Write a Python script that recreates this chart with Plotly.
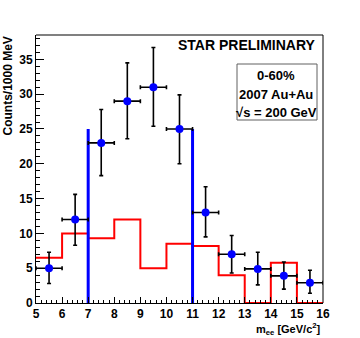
import plotly.graph_objects as go

# measured points (m_ee bin centres, counts, errors)
mass = [5.5, 6.5, 7.5, 8.5, 9.5, 10.5, 11.5, 12.5, 13.5, 14.5, 15.5]
counts = [5, 12, 23, 29, 31, 25, 13, 7, 4.9, 3.9, 2.9]
err_up = [2.3, 3.6, 4.8, 5.5, 5.7, 4.9, 3.7, 2.7, 2.4, 2.0, 1.8]
err_dn = [2.2, 3.7, 4.7, 5.4, 5.6, 5.0, 3.5, 2.7, 2.3, 1.9, 1.5]
x_half = [0.5] * 11

# background histogram
bin_edges = [5, 6, 7, 8, 9, 10, 11, 12, 13, 14, 15, 16]
bkg = [6.5, 10, 9.3, 12, 5, 8.5, 8.2, 4, 0, 5.8, 0]

# mass window
window = [7, 11]
window_height = 25

fig = go.Figure()

fig.add_trace(go.Scatter(
    x=bin_edges, y=bkg + [bkg[-1]],
    mode="lines", line=dict(color="#ff0000", width=2, shape="hv"),
    showlegend=False, hoverinfo="skip"))

wx, wy = [], []
for w in window:
    wx += [w, w, None]
    wy += [0, window_height, None]
fig.add_trace(go.Scatter(
    x=wx, y=wy, mode="lines",
    line=dict(color="#0000ff", width=3),
    showlegend=False, hoverinfo="skip"))

fig.add_trace(go.Scatter(
    x=mass, y=counts, mode="markers",
    marker=dict(color="#0000ff", size=8),
    error_y=dict(type="data", symmetric=False, array=err_up, arrayminus=err_dn,
                 color="black", thickness=1.6, width=2),
    error_x=dict(type="data", array=x_half, color="black", thickness=1.6, width=2),
    showlegend=False))

FONT = "Liberation Sans, Arial"
axis_font = dict(family=FONT, size=12, color="black", weight="bold")

fig.update_xaxes(
    range=[5, 16], dtick=1, tick0=5, ticks="inside", ticklen=6, tickcolor="black",
    showline=True, linecolor="black", linewidth=1, showgrid=False, zeroline=False,
    tickfont=axis_font,
    minor=dict(dtick=0.2, ticks="inside", ticklen=3, tickcolor="black"))
fig.update_yaxes(
    range=[0, 38.5], dtick=5, tick0=0, ticks="inside", ticklen=8, tickcolor="black",
    showline=True, linecolor="black", linewidth=1, showgrid=False, zeroline=False,
    tickfont=axis_font,
    minor=dict(dtick=1, ticks="inside", ticklen=4, tickcolor="black"))

# frame top / right
fig.add_shape(type="line", xref="paper", yref="paper", x0=0, x1=1, y0=1, y1=1,
              line=dict(color="#808080", width=2))
fig.add_shape(type="line", xref="paper", yref="paper", x0=1, x1=1, y0=0, y1=1,
              line=dict(color="black", width=1))

# info box
fig.add_shape(type="rect", xref="paper", yref="paper",
              x0=(237 - 36) / 287, x1=(317 - 36) / 287,
              y0=(303 - 120) / 268, y1=(303 - 64) / 268,
              line=dict(color="#606060", width=1), fillcolor="white")

fig.add_annotation(text="<b>STAR PRELIMINARY</b>", xref="paper", yref="paper",
                   x=(318 - 36) / 287, y=(303 - 45) / 268, xanchor="right", yanchor="middle",
                   showarrow=False, font=dict(family=FONT, size=14, color="black"))
box_lines = ["0-60%", "2007 Au+Au", "√s = 200 GeV"]
for i, t in enumerate(box_lines):
    fig.add_annotation(text="<b>%s</b>" % t, xref="paper", yref="paper",
                       x=(276 - 36) / 287, y=(303 - (75 + 19 * i)) / 268,
                       xanchor="center", yanchor="middle", showarrow=False,
                       font=dict(family=FONT, size=13, color="black"))

fig.add_annotation(text="<b>m<sub>ee</sub> [GeV/c<sup>2</sup>]</b>", xref="paper", yref="paper",
                   x=(323 - 36) / 287, y=(303 - 319) / 268, xanchor="right", yanchor="top",
                   showarrow=False, font=dict(family=FONT, size=11, color="black"))
fig.add_annotation(text="<b>Counts/1000 MeV</b>", xref="paper", yref="paper",
                   x=(7 - 36) / 287, y=(303 - 35) / 268, xanchor="center", yanchor="top",
                   textangle=-90, showarrow=False,
                   font=dict(family=FONT, size=12, color="black"))

fig.update_layout(
    width=360, height=338,
    margin=dict(l=36, r=37, t=35, b=35),
    plot_bgcolor="white", paper_bgcolor="white",
    showlegend=False)

fig.write_html("out.html", config={"displayModeBar": False},
               post_script="document.body.style.margin='0';")
